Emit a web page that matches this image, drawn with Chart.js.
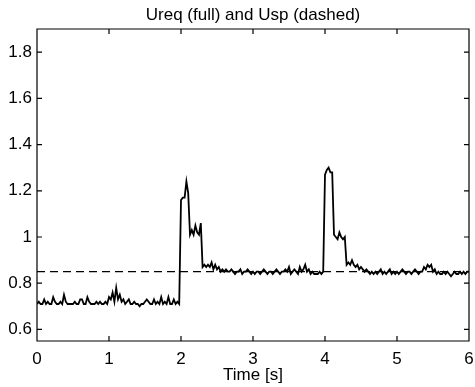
<!DOCTYPE html>
<html>
<head>
<meta charset="utf-8">
<script src="https://cdn.jsdelivr.net/npm/chart.js@4/dist/chart.umd.min.js"></script>
<style>
  html, body { margin: 0; padding: 0; background: #fff; }
  canvas { display: block; }
</style>
</head>
<body>
<canvas id="ureq_chart" width="475" height="387"></canvas>
<script>
// sample times, every 0.025 s (0 .. 5.975) plus the last one at 6
var sampleStep = 0.025;
var ureq0to1 = [0.71,0.72,0.71,0.71,0.73,0.71,0.72,0.71,0.71,0.74,0.72,0.71,0.71,0.72,0.71,0.75,0.72,0.71,0.71,0.71,
                0.71,0.72,0.71,0.71,0.73,0.73,0.71,0.71,0.74,0.72,0.71,0.71,0.71,0.72,0.71,0.72,0.71,0.71,0.72,0.71];
var ureq1to2 = [0.74,0.73,0.76,0.72,0.78,0.73,0.75,0.72,0.73,0.71,0.72,0.73,0.71,0.71,0.72,0.71,0.71,0.70,0.71,0.71,
                0.72,0.73,0.72,0.71,0.71,0.73,0.71,0.72,0.71,0.74,0.71,0.72,0.71,0.74,0.71,0.71,0.73,0.71,0.72,0.71];
var ureq2to3 = [1.16,1.17,1.17,1.24,1.19,1.01,1.03,1.01,1.05,1.02,1.01,1.06,0.87,0.88,0.87,0.88,0.87,0.89,0.86,0.88,
                0.86,0.87,0.85,0.86,0.85,0.86,0.85,0.85,0.86,0.85,0.84,0.85,0.85,0.86,0.84,0.85,0.85,0.86,0.85,0.84];
var ureq3to4 = [0.85,0.84,0.85,0.85,0.84,0.85,0.86,0.85,0.84,0.85,0.85,0.84,0.85,0.86,0.85,0.84,0.85,0.85,0.86,0.85,
                0.87,0.84,0.85,0.86,0.85,0.84,0.87,0.85,0.86,0.88,0.85,0.86,0.84,0.85,0.84,0.84,0.84,0.85,0.84,0.85];
var ureq4to5 = [1.27,1.29,1.30,1.28,1.28,1.01,1.00,0.99,1.02,1.00,0.99,1.00,0.88,0.89,0.88,0.90,0.88,0.87,0.88,0.86,
                0.87,0.86,0.85,0.86,0.85,0.84,0.85,0.84,0.85,0.84,0.85,0.86,0.84,0.85,0.84,0.85,0.86,0.84,0.85,0.84];
var ureq5to6 = [0.85,0.84,0.85,0.86,0.85,0.84,0.85,0.85,0.84,0.85,0.86,0.85,0.84,0.85,0.85,0.87,0.86,0.88,0.87,0.88,
                0.85,0.86,0.84,0.85,0.84,0.84,0.85,0.84,0.85,0.84,0.83,0.84,0.85,0.84,0.84,0.85,0.84,0.85,0.84,0.85,
                0.85];

var uspTime = [0, 6];
var uspValue = [0.85, 0.85];

var xTicks = [0, 1, 2, 3, 4, 5, 6];
var yTicks = [0.6, 0.8, 1.0, 1.2, 1.4, 1.6, 1.8];

var ureq = ureq0to1.concat(ureq1to2, ureq2to3, ureq3to4, ureq4to5, ureq5to6);
var ureqPoints = [];
for (var i = 0; i < ureq.length; i++) {
    ureqPoints.push({x: +(i * sampleStep).toFixed(3), y: ureq[i]});
}
var uspPoints = [];
for (var i = 0; i < uspTime.length; i++) {
    uspPoints.push({x: uspTime[i], y: uspValue[i]});
}

const fontFam = '"Liberation Sans", Arial, Helvetica, sans-serif';

// matlab style box with ticks pointing inwards
const boxPlugin = {
    id: 'boxPlugin',
    afterDatasetsDraw(chart) {
        const ctx = chart.ctx;
        const a = chart.chartArea;
        const sx = chart.scales.x;
        const sy = chart.scales.y;
        const tl = 5;
        ctx.save();
        ctx.strokeStyle = '#000';
        ctx.lineWidth = 1.2;
        ctx.beginPath();
        ctx.rect(a.left, a.top, a.right - a.left, a.bottom - a.top);
        for (var i = 0; i < xTicks.length; i++) {
            var px = sx.getPixelForValue(xTicks[i]);
            ctx.moveTo(px, a.bottom); ctx.lineTo(px, a.bottom - tl);
            ctx.moveTo(px, a.top); ctx.lineTo(px, a.top + tl);
        }
        for (var i = 0; i < yTicks.length; i++) {
            var py = sy.getPixelForValue(yTicks[i]);
            ctx.moveTo(a.left, py); ctx.lineTo(a.left + tl, py);
            ctx.moveTo(a.right, py); ctx.lineTo(a.right - tl, py);
        }
        ctx.stroke();
        ctx.restore();
    }
};

const dataUreq = {
    datasets: [{
        label: 'Usp',
        data: uspPoints,
        borderColor: '#000',
        borderWidth: 1.3,
        borderDash: [8, 5],
        pointRadius: 0,
        fill: false
    },
    {
        label: 'Ureq',
        data: ureqPoints,
        borderColor: '#000',
        borderWidth: 1.8,
        pointRadius: 0,
        tension: 0,
        fill: false
    }]
};

const configUreq = {
    type: 'line',
    data: dataUreq,
    plugins: [boxPlugin],
    options: {
        responsive: false,
        animation: false,
        layout: { padding: 0 },
        plugins: {
            legend: { display: false },
            tooltip: { enabled: false }
        },
        scales: {
            // top axis only carries the title so it is centred over the plot box
            xTop: {
                type: 'linear',
                position: 'top',
                min: 0,
                max: 6,
                grid: { display: false, drawTicks: false },
                border: { display: false },
                ticks: { display: false },
                afterFit: function (s) { s.height = 29; },
                title: {
                    display: true,
                    text: 'Ureq (full) and Usp (dashed)',
                    color: '#000',
                    font: { family: fontFam, size: 17, lineHeight: 1.2 },
                    padding: { top: 5, bottom: 0 }
                }
            },
            x: {
                type: 'linear',
                min: 0,
                max: 6,
                grid: { display: false, drawTicks: false },
                border: { display: false },
                afterFit: function (s) { s.height = 46; s.paddingRight = 6; },
                afterBuildTicks: function (s) { s.ticks = xTicks.map(function (v) { return {value: v}; }); },
                ticks: {
                    color: '#000',
                    padding: 8,
                    maxRotation: 0,
                    font: { family: fontFam, size: 17 },
                    callback: function (v) { return String(v); }
                },
                title: {
                    display: true,
                    text: 'Time [s]',
                    color: '#000',
                    font: { family: fontFam, size: 17, lineHeight: 1.2 },
                    padding: { top: 0, bottom: 1 }
                }
            },
            y: {
                min: 0.55,
                max: 1.9,
                grid: { display: false, drawTicks: false },
                border: { display: false },
                afterFit: function (s) { s.width = 37; },
                afterBuildTicks: function (s) { s.ticks = yTicks.map(function (v) { return {value: v}; }); },
                ticks: {
                    color: '#000',
                    padding: 5,
                    font: { family: fontFam, size: 17 },
                    callback: function (v) { return String(+v.toFixed(2)); }
                }
            }
        }
    }
};

const myChartUreq = new Chart(
    document.getElementById('ureq_chart'),
    configUreq
);
</script>
</body>
</html>
